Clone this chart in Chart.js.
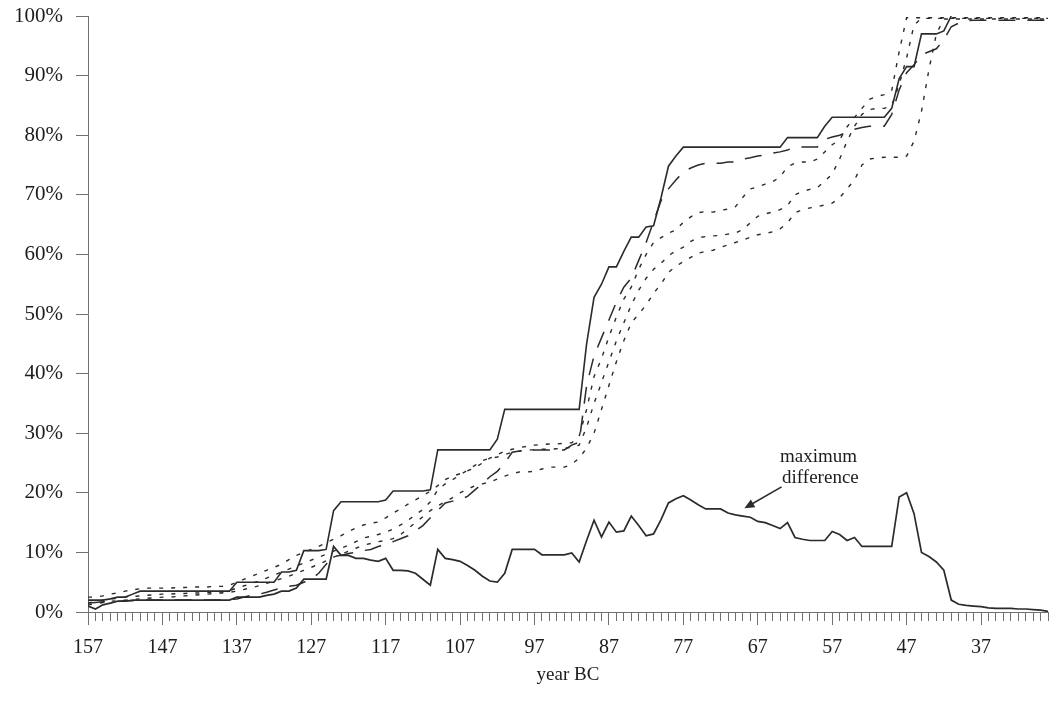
<!DOCTYPE html>
<html>
<head>
<meta charset="utf-8">
<script src="https://cdn.jsdelivr.net/npm/chart.js@4"></script>
<style>
  html, body { margin: 0; padding: 0; background: #ffffff; }
  #wrap { width: 1050px; height: 712px; }
</style>
</head>
<body>
<div id="wrap"><canvas id="c" width="1050" height="712"></canvas></div>
<script>
// Years BC, oldest first (the axis runs right-to-left in time values)
const years = [
  157,156,155,154,153,152,151,150,149,148,
  147,146,145,144,143,142,141,140,139,138,
  137,136,135,134,133,132,131,130,129,128,
  127,126,125,124,123,122,121,120,119,118,
  117,116,115,114,113,112,111,110,109,108,
  107,106,105,104,103,102,101,100, 99, 98,
   97, 96, 95, 94, 93, 92, 91, 90, 89, 88,
   87, 86, 85, 84, 83, 82, 81, 80, 79, 78,
   77, 76, 75, 74, 73, 72, 71, 70, 69, 68,
   67, 66, 65, 64, 63, 62, 61, 60, 59, 58,
   57, 56, 55, 54, 53, 52, 51, 50, 49, 48,
   47, 46, 45, 44, 43, 42, 41, 40, 39, 38,
   37, 36, 35, 34, 33, 32, 31, 30, 29, 28
];

// Labelled (major) year ticks
const labelYears = [157, 147, 137, 127, 117, 107, 97, 87, 77, 67, 57, 47, 37];

// Cumulative share, observed (solid)
const observed = [
  2.0, 2.0, 2.0, 2.2, 2.5, 2.5, 3.0, 3.5, 3.5, 3.5,
  3.5, 3.5, 3.5, 3.5, 3.5, 3.5, 3.5, 3.5, 3.5, 3.5,
  5.0, 5.0, 5.0, 5.0, 5.0, 5.0, 6.7, 6.7, 7.0, 10.3,
  10.3, 10.3, 10.5, 17.0, 18.5, 18.5, 18.5, 18.5, 18.5, 18.5,
  18.8, 20.3, 20.3, 20.3, 20.3, 20.3, 20.5, 27.2, 27.2, 27.2,
  27.2, 27.2, 27.2, 27.2, 27.2, 29.0, 34.0, 34.0, 34.0, 34.0,
  34.0, 34.0, 34.0, 34.0, 34.0, 34.0, 34.0, 45.0, 52.8, 55.0,
  57.9, 57.9, 60.5, 62.9, 62.9, 64.6, 64.8, 69.5, 74.8, 76.5,
  78.0, 78.0, 78.0, 78.0, 78.0, 78.0, 78.0, 78.0, 78.0, 78.0,
  78.0, 78.0, 78.0, 78.0, 79.6, 79.6, 79.6, 79.6, 79.6, 81.5,
  83.0, 83.0, 83.0, 83.0, 83.0, 83.0, 83.0, 83.0, 84.5, 89.5,
  91.5, 91.5, 97.0, 97.0, 97.0, 97.5, 100, null, null, null,
  null, null, null, null, null, null, null, null, null, null
];

// Cumulative share, series A (long dash)
const seriesA = [
  1.5, 1.6, 1.7, 1.8, 1.8, 1.9, 1.9, 2.0, 2.0, 2.0,
  2.0, 2.0, 2.0, 2.0, 2.0, 2.0, 2.0, 2.0, 2.0, 2.1,
  2.2, 2.5, 2.8, 3.0, 3.3, 3.7, 4.0, 4.3, 4.5, 5.0,
  5.5, 6.5, 8.0, 9.3, 9.5, 9.8, 10.0, 10.3, 10.5, 11.0,
  11.3, 11.8, 12.3, 12.8, 13.6, 14.5, 15.8, 17.0, 18.3, 18.6,
  18.9, 19.4, 20.5, 21.5, 22.7, 23.6, 25.0, 26.8, 27.0, 27.2,
  27.2, 27.2, 27.2, 27.2, 27.2, 28.0, 28.5, 38.0, 43.0, 46.0,
  49.0, 52.0, 54.5, 56.0, 59.0, 62.0, 65.5, 69.0, 71.0, 72.5,
  73.8, 74.5, 75.0, 75.3, 75.3, 75.3, 75.5, 75.5, 76.0, 76.2,
  76.5, 76.7, 77.0, 77.2, 77.5, 78.0, 78.0, 78.0, 78.0, 79.3,
  79.7, 80.0, 80.5, 81.0, 81.3, 81.5, 81.5, 81.5, 83.5, 87.6,
  90.5, 91.8, 93.5, 94.0, 94.5, 96.0, 98.2, 98.8, 99.2, 99.3,
  99.3, 99.3, 99.3, 99.3, 99.3, 99.3, 99.3, 99.3, 99.3, 99.3
];

// Cumulative share, series B (dotted, upper)
const seriesB = [
  2.5, 2.5, 2.7, 3.0, 3.2, 3.5, 3.7, 3.9, 4.0, 4.0,
  4.0, 4.0, 4.1, 4.1, 4.2, 4.2, 4.2, 4.3, 4.3, 4.5,
  5.0, 5.5, 6.0, 6.5, 7.0, 7.5, 8.0, 8.8, 9.5, 10.0,
  10.5, 11.0, 11.6, 12.2, 12.8, 13.5, 14.1, 14.6, 14.9, 15.1,
  15.8, 16.6, 17.3, 18.1, 18.8, 19.5, 20.3, 21.2, 22.2, 22.8,
  23.2, 23.7, 24.2, 25.0, 25.8, 26.4, 27.0, 27.3, 27.6, 27.8,
  28.0, 28.1, 28.2, 28.2, 28.3, 28.4, 29.5, 34.0, 39.5, 42.5,
  46.2, 49.5, 52.5, 54.5, 57.5, 60.0, 62.0, 62.8, 63.6, 64.1,
  65.4, 66.3, 67.0, 67.2, 67.1, 67.4, 67.6, 68.0, 69.6, 71.0,
  71.3, 71.8, 72.2, 73.0, 74.7, 75.3, 75.5, 75.5, 76.0, 77.2,
  78.4, 79.2, 81.4, 83.0, 84.5, 86.0, 86.5, 86.8, 87.5, 94.0,
  99.7, 99.7, 99.7, 99.7, 99.7, 99.7, 99.7, 99.7, 99.7, 99.7,
  99.7, 99.7, 99.7, 99.7, 99.7, 99.7, 99.7, 99.7, 99.7, 99.7
];

// Cumulative share, series C (dotted, middle)
const seriesC = [
  1.5, 1.8, 2.0, 2.2, 2.3, 2.5, 2.6, 2.7, 2.8, 2.9,
  3.0, 3.0, 3.1, 3.1, 3.2, 3.2, 3.3, 3.3, 3.4, 3.6,
  4.0, 4.4, 4.8, 5.2, 5.7, 6.2, 6.7, 7.2, 7.7, 8.2,
  8.7, 9.2, 9.7, 10.2, 10.7, 11.2, 11.8, 12.4, 12.7, 13.0,
  13.4, 13.9, 14.6, 15.4, 16.3, 17.2, 18.5, 20.5, 21.5, 22.2,
  23.0, 23.8, 24.6, 25.4, 25.8, 26.0, 26.4, 26.8, 27.0, 27.2,
  27.2, 27.3, 27.3, 27.4, 27.5, 27.6, 28.0, 31.0, 35.0, 38.5,
  42.0, 45.5, 48.5, 51.5, 54.0, 56.0, 57.5, 58.5, 59.8, 60.6,
  61.2, 62.2, 62.8, 63.0, 63.1, 63.2, 63.4, 63.6, 64.2, 65.3,
  66.4, 66.8, 67.1, 67.5, 68.2, 70.0, 70.6, 70.9, 71.2, 72.3,
  73.5, 76.0, 79.0, 81.5, 83.5, 84.3, 84.5, 84.5, 85.0, 88.5,
  93.0, 98.5, 99.6, 99.6, 99.6, 99.6, 99.6, 99.6, 99.6, 99.6,
  99.6, 99.6, 99.6, 99.6, 99.6, 99.6, 99.6, 99.6, 99.6, 99.6
];

// Cumulative share, series D (dotted, lower)
const seriesD = [
  1.2, 1.4, 1.6, 1.8, 1.9, 2.0, 2.1, 2.2, 2.3, 2.4,
  2.5, 2.5, 2.6, 2.7, 2.8, 2.9, 3.0, 3.1, 3.2, 3.3,
  3.5, 3.8, 4.1, 4.4, 4.8, 5.2, 5.6, 6.0, 6.5, 7.0,
  7.5, 8.0, 8.6, 9.2, 9.7, 10.2, 10.7, 11.2, 11.5, 11.8,
  12.0, 12.3, 13.0, 14.0, 15.0, 16.0, 17.0, 17.8, 18.5, 19.2,
  20.0, 20.6, 21.2, 21.5, 21.8, 22.3, 22.8, 23.2, 23.5, 23.5,
  23.6, 24.0, 24.3, 24.3, 24.3, 24.8, 25.8, 27.5, 30.0, 34.0,
  38.0, 42.0, 45.5, 48.5, 50.0, 51.5, 53.5, 55.0, 57.0, 58.0,
  58.8, 59.5, 60.2, 60.5, 60.7, 61.2, 61.6, 62.0, 62.4, 62.9,
  63.3, 63.5, 63.8, 64.3, 65.3, 67.0, 67.5, 67.8, 68.0, 68.3,
  68.6, 69.5, 71.0, 72.5, 75.0, 76.0, 76.2, 76.3, 76.3, 76.3,
  76.5, 79.0, 84.0, 91.0, 97.0, 99.5, 99.5, 99.5, 99.5, 99.5,
  99.5, 99.5, 99.5, 99.5, 99.5, 99.5, 99.5, 99.5, 99.5, 99.5
];

// Maximum difference between the curves, per year
const maxDifference = [
  1.0, 0.5, 1.2, 1.5, 1.8, 1.8, 2.0, 2.0, 2.0, 2.0,
  2.0, 2.0, 2.0, 2.0, 2.0, 2.0, 2.0, 2.0, 2.0, 2.0,
  2.5, 2.5, 2.5, 2.5, 2.8, 3.0, 3.5, 3.5, 4.0, 5.5,
  5.5, 5.5, 5.5, 11.0, 9.5, 9.5, 9.0, 9.0, 8.7, 8.5,
  9.0, 7.0, 7.0, 6.9, 6.5, 5.5, 4.5, 10.5, 9.0, 8.8,
  8.5, 7.8, 7.0, 6.0, 5.2, 5.0, 6.5, 10.5, 10.5, 10.5,
  10.5, 9.6, 9.6, 9.6, 9.6, 9.9, 8.4, 12.0, 15.4, 12.6,
  15.1, 13.4, 13.6, 16.1, 14.5, 12.8, 13.1, 15.5, 18.3, 19.0,
  19.5, 18.8, 18.0, 17.3, 17.3, 17.3, 16.6, 16.3, 16.1, 15.9,
  15.2, 15.0, 14.5, 14.0, 15.0, 12.5, 12.2, 12.0, 12.0, 12.0,
  13.5, 13.0, 12.0, 12.5, 11.0, 11.0, 11.0, 11.0, 11.0, 19.3,
  20.0, 16.5, 10.0, 9.3, 8.4, 7.0, 2.0, 1.3, 1.1, 1.0,
  0.9, 0.7, 0.6, 0.6, 0.6, 0.5, 0.5, 0.4, 0.3, 0.1
];

// Annotation: label anchor and arrow (year, percent)
const noteAnchor = [64.0, 26.0];
const arrowTail = [63.8, 21.0];
const arrowTip = [68.8, 17.4];

const toPoints = vals => years.map((yr, i) => ({ x: yr, y: vals[i] }));

const FONT = 'Liberation Serif, "Times New Roman", serif';
const INK = '#1c1c1c';
const LINE = '#2b2b2b';

const lineStyle = (dash, width) => ({
  borderColor: LINE,
  borderWidth: width,
  borderDash: dash,
  pointRadius: 0,
  pointHoverRadius: 0,
  tension: 0,
  fill: false,
  spanGaps: false
});

const notePlugin = {
  id: 'maxDiffNote',
  afterDatasetsDraw(chart) {
    const { ctx, scales: { x, y } } = chart;
    const tx = x.getPixelForValue(arrowTip[0]), ty = y.getPixelForValue(arrowTip[1]);
    const sx = x.getPixelForValue(arrowTail[0]), sy = y.getPixelForValue(arrowTail[1]);
    const ang = Math.atan2(ty - sy, tx - sx);
    const head = 11, spread = 0.42;
    ctx.save();
    ctx.strokeStyle = LINE;
    ctx.fillStyle = LINE;
    ctx.lineWidth = 1.5;
    ctx.beginPath();
    ctx.moveTo(sx, sy);
    ctx.lineTo(tx - Math.cos(ang) * head * 0.6, ty - Math.sin(ang) * head * 0.6);
    ctx.stroke();
    ctx.beginPath();
    ctx.moveTo(tx, ty);
    ctx.lineTo(tx - head * Math.cos(ang - spread), ty - head * Math.sin(ang - spread));
    ctx.lineTo(tx - head * Math.cos(ang + spread), ty - head * Math.sin(ang + spread));
    ctx.closePath();
    ctx.fill();
    const ax = x.getPixelForValue(noteAnchor[0]), ay = y.getPixelForValue(noteAnchor[1]);
    ctx.fillStyle = INK;
    ctx.font = '19px ' + FONT;
    ctx.textAlign = 'left';
    ctx.textBaseline = 'middle';
    ctx.fillText('maximum', ax, ay);
    ctx.fillText('difference', ax + 2, ay + 21);
    ctx.restore();
  }
};

new Chart(document.getElementById('c'), {
  type: 'line',
  data: {
    datasets: [
      Object.assign({ label: 'observed', data: toPoints(observed) }, lineStyle([], 1.6)),
      Object.assign({ label: 'A', data: toPoints(seriesA) }, lineStyle([17, 12], 1.5)),
      Object.assign({ label: 'B', data: toPoints(seriesB) }, lineStyle([4, 8], 1.4)),
      Object.assign({ label: 'C', data: toPoints(seriesC) }, lineStyle([4, 8], 1.4)),
      Object.assign({ label: 'D', data: toPoints(seriesD) }, lineStyle([4, 8], 1.4)),
      Object.assign({ label: 'maximum difference', data: toPoints(maxDifference) }, lineStyle([], 1.7))
    ]
  },
  options: {
    responsive: false,
    animation: false,
    devicePixelRatio: 1,
    layout: { padding: { top: 16, right: 2, left: 0, bottom: 0 } },
    plugins: {
      legend: { display: false },
      tooltip: { enabled: false }
    },
    scales: {
      x: {
        type: 'linear',
        reverse: true,
        min: 28,
        max: 157,
        ticks: {
          stepSize: 1,
          autoSkip: false,
          maxRotation: 0,
          padding: 11,
          color: INK,
          font: { family: FONT, size: 20 },
          callback: v => (labelYears.includes(v) ? String(v) : '')
        },
        grid: {
          drawOnChartArea: false,
          tickLength: 13,
          tickWidth: 1,
          tickColor: '#707070',
          tickBorderDash: ctx => (ctx.tick && labelYears.includes(ctx.tick.value) ? [] : [8, 40])
        },
        border: { color: '#707070', width: 1 },
        title: {
          display: true,
          text: 'year BC',
          color: INK,
          font: { family: FONT, size: 19 },
          padding: { top: 0, bottom: 26 }
        },
        afterFit: s => { s.height = 100; s.paddingLeft = 0; s.paddingRight = 0; }
      },
      y: {
        min: 0,
        max: 100,
        ticks: {
          stepSize: 10,
          padding: 13,
          color: INK,
          font: { family: FONT, size: 21 },
          callback: v => v + '%'
        },
        grid: {
          drawOnChartArea: false,
          tickLength: 12,
          tickWidth: 1,
          tickColor: '#707070'
        },
        border: { color: '#707070', width: 1 },
        afterFit: s => { s.width = 88; s.paddingTop = 0; s.paddingBottom = 0; }
      }
    }
  },
  plugins: [notePlugin]
});
</script>
</body>
</html>
